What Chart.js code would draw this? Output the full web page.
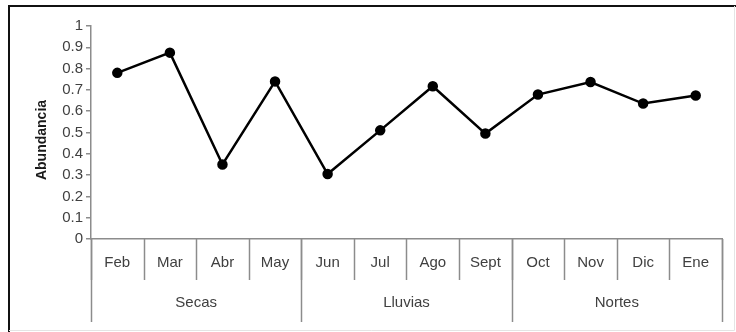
<!DOCTYPE html>
<html>
<head>
<meta charset="utf-8">
<script src="https://cdn.jsdelivr.net/npm/chart.js@4/dist/chart.umd.min.js"></script>
<style>
  html, body { margin: 0; padding: 0; background: #fff; }
  #wrap { width: 736px; height: 332px; position: relative; }
</style>
</head>
<body>
<div id="wrap"><canvas id="c" width="736" height="332"></canvas></div>
<script>
// Monthly abundance grouped by season
const months = ['Feb', 'Mar', 'Abr', 'May', 'Jun', 'Jul', 'Ago', 'Sept', 'Oct', 'Nov', 'Dic', 'Ene'];
const abundance = [0.78, 0.875, 0.35, 0.74, 0.305, 0.51, 0.717, 0.495, 0.678, 0.737, 0.636, 0.674];
const seasons = ['Secas', 'Lluvias', 'Nortes'];
const seasonSpan = [4, 4, 4];
const yTicks = [0, 0.1, 0.2, 0.3, 0.4, 0.5, 0.6, 0.7, 0.8, 0.9, 1];
const yTitle = 'Abundancia';

const FONT = '"Liberation Sans", Arial, sans-serif';
const AXIS = '#8c8c8c';
const TEXT = '#404040';

// Two-level category axis (months over seasons), axis title and frame
const groupedAxis = {
  id: 'groupedAxis',
  afterDraw(chart) {
    const ctx = chart.ctx;
    const x = chart.scales.x;
    const area = chart.chartArea;
    const half = (x.getPixelForValue(1) - x.getPixelForValue(0)) / 2;
    const base = area.bottom;
    ctx.save();

    // month separators and labels
    ctx.strokeStyle = AXIS;
    ctx.lineWidth = 1.5;
    ctx.fillStyle = TEXT;
    ctx.font = '15px ' + FONT;
    ctx.textAlign = 'center';
    ctx.textBaseline = 'middle';
    months.forEach((m, i) => {
      const cx = x.getPixelForValue(i);
      ctx.fillText(m, cx, base + 24);
    });
    for (let i = 0; i <= months.length; i++) {
      const bx = Math.round(x.getPixelForValue(i) - half) + 0.5;
      ctx.beginPath();
      ctx.moveTo(bx, base);
      ctx.lineTo(bx, base + 41);
      ctx.stroke();
    }

    // season separators and labels
    let start = 0;
    const edges = [0];
    seasonSpan.forEach(n => { start += n; edges.push(start); });
    edges.forEach(e => {
      const bx = Math.round(x.getPixelForValue(e) - half) + 0.5;
      ctx.beginPath();
      ctx.moveTo(bx, base);
      ctx.lineTo(bx, base + 83);
      ctx.stroke();
    });
    seasons.forEach((s, k) => {
      const a = x.getPixelForValue(edges[k]) - half;
      const b = x.getPixelForValue(edges[k + 1]) - half;
      ctx.fillText(s, (a + b) / 2, base + 64);
    });

    // y axis title
    ctx.save();
    ctx.translate(42, 140);
    ctx.rotate(-Math.PI / 2);
    ctx.font = 'bold 14px ' + FONT;
    ctx.fillStyle = '#1a1a1a';
    ctx.fillText(yTitle, 0, 0);
    ctx.restore();

    // frame
    ctx.strokeStyle = '#111';
    ctx.lineWidth = 2;
    ctx.beginPath();
    ctx.moveTo(9, 332);
    ctx.lineTo(9, 6);
    ctx.lineTo(736, 6);
    ctx.stroke();
    ctx.strokeStyle = '#e4e4e4';
    ctx.lineWidth = 1;
    ctx.beginPath();
    ctx.moveTo(9, 330.5);
    ctx.lineTo(734.5, 330.5);
    ctx.lineTo(734.5, 6);
    ctx.stroke();
    ctx.restore();
  }
};

new Chart(document.getElementById('c'), {
  type: 'line',
  data: {
    labels: months,
    datasets: [{
      data: abundance,
      borderColor: '#000',
      backgroundColor: '#000',
      borderWidth: 2.5,
      pointRadius: 4,
      pointHoverRadius: 4,
      pointBackgroundColor: '#000',
      pointBorderColor: '#000',
      tension: 0,
      fill: false
    }]
  },
  options: {
    responsive: false,
    animation: false,
    events: [],
    layout: { padding: { left: 0, top: 26, right: 14, bottom: 0 } },
    plugins: { legend: { display: false }, tooltip: { enabled: false } },
    scales: {
      x: {
        type: 'category',
        offset: true,
        grid: { display: false },
        ticks: { display: false },
        border: { display: true, color: AXIS, width: 1.5 },
        afterFit(s) { s.height = 93; }
      },
      y: {
        min: 0,
        max: 1,
        afterBuildTicks(s) { s.ticks = yTicks.map(v => ({ value: v })); },
        ticks: {
          color: TEXT,
          font: { family: FONT, size: 15 },
          padding: 3,
          callback: v => String(v)
        },
        grid: { drawOnChartArea: false, tickLength: 5, color: AXIS, lineWidth: 1.5 },
        border: { display: true, color: AXIS, width: 1.5 },
        afterFit(s) { s.width = 91; }
      }
    }
  },
  plugins: [groupedAxis]
});
</script>
</body>
</html>
